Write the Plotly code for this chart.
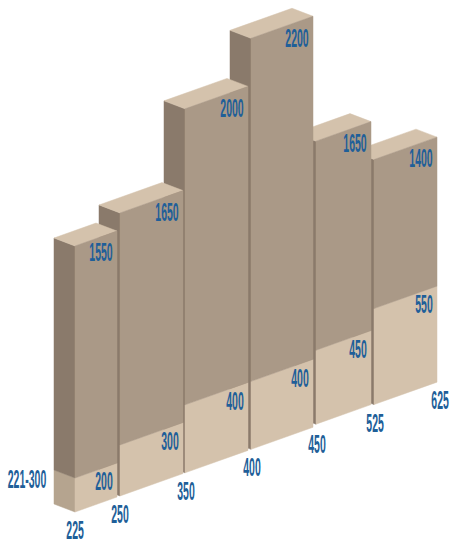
import numpy as np
import plotly.graph_objects as go

# ---- data ----
edge_labels = ["225", "250", "350", "400", "450", "525", "625"]
total_values = [1550, 1650, 2000, 2200, 1650, 1400]
lower_values = [200, 300, 400, 400, 450, 550]
row_label = "221-300"

# ---- drawing scale (the original's value axis is not linear) ----
scale_domain = [0, 200, 300, 400, 450, 550, 1400, 1550, 1650, 2000, 2200]
scale_range = [0, 34, 51, 68, 74, 96, 245, 266, 283, 364, 411]
bar_left = [75, 120, 185, 251, 316, 374]
bar_right = [117, 183, 248, 313, 371, 437]
bar_shift = [0, 0, 0, 0, -2, -1]
edge_x = [75, 120, 186, 252, 317, 375, 440]
SLOPE = 0.356
DX, DY = -21, -8

C_FRONT_UP = "#AA9987"
C_FRONT_LOW = "#D4C2AC"
C_SIDE_UP = "#8A7A6B"
C_SIDE_LOW = "#B5A48F"
C_TOP = "#D4C2AC"
C_TEXT = "#1F5F99"


def base(x, shift=0):
    return 512 - SLOPE * (x - 75) + shift


def h(v):
    return float(np.interp(v, scale_domain, scale_range))


fig = go.Figure()


def poly(xs, ys, color):
    fig.add_trace(go.Scatter(x=xs + xs[:1], y=ys + ys[:1], mode="lines", fill="toself",
                             fillcolor=color, line=dict(width=0.5, color=color),
                             hoverinfo="skip", showlegend=False))


# painted from the right (far) bar to the left (near) bar
for i in range(len(total_values) - 1, -1, -1):
    l, r, s = bar_left[i], bar_right[i], bar_shift[i]
    bl, br = base(l, s), base(r, s)
    ht, hl = h(total_values[i]), h(lower_values[i])
    # left side
    if i == 0:
        poly([l + DX, l, l, l + DX], [bl + DY, bl, bl - hl, bl - hl + DY], C_SIDE_LOW)
        poly([l + DX, l, l, l + DX], [bl - hl + DY, bl - hl, bl - ht, bl - ht + DY], C_SIDE_UP)
    else:
        poly([l + DX, l, l, l + DX], [bl + DY, bl, bl - ht, bl - ht + DY], C_SIDE_UP)
    # top
    poly([l, r, r + DX, l + DX], [bl - ht, br - ht, br - ht + DY, bl - ht + DY], C_TOP)
    # front, two tiers
    poly([l, r, r, l], [bl, br, br - hl, bl - hl], C_FRONT_LOW)
    poly([l, r, r, l], [bl - hl, br - hl, br - ht, bl - ht], C_FRONT_UP)

# text
tx, ty, tt = [], [], []
for i in range(len(total_values)):
    r, s = bar_right[i], bar_shift[i]
    br = base(r, s)
    tx.append(r - 16); ty.append(br - h(total_values[i]) + 24); tt.append(str(total_values[i]))
    tx.append(r - 13); ty.append(br - h(lower_values[i]) + 21); tt.append(str(lower_values[i]))
for x, lab in zip(edge_x, edge_labels):
    tx.append(x); ty.append(base(x) + 21); tt.append(lab)
tx.append(27); ty.append(482); tt.append(row_label)

fig.add_trace(go.Scatter(x=tx, y=ty, text=tt, mode="text", textposition="middle center",
                         textfont=dict(family="Liberation Sans", size=25, color=C_TEXT, weight="bold"),
                         hoverinfo="skip", showlegend=False))

fig.update_layout(width=452, height=546, margin=dict(l=0, r=0, t=0, b=0),
                  paper_bgcolor="white", plot_bgcolor="white",
                  xaxis=dict(range=[0, 452], visible=False, fixedrange=True),
                  yaxis=dict(range=[546, 0], visible=False, fixedrange=True))

post = """
document.body.style.margin='0';
document.querySelectorAll('.textpoint text').forEach(function(t){
  t.style.transformBox='fill-box';
  t.style.transformOrigin='center';
  t.style.transform='scaleX(0.42)';
});
"""
fig.write_html("out.html", post_script=post, config={"displayModeBar": False})
